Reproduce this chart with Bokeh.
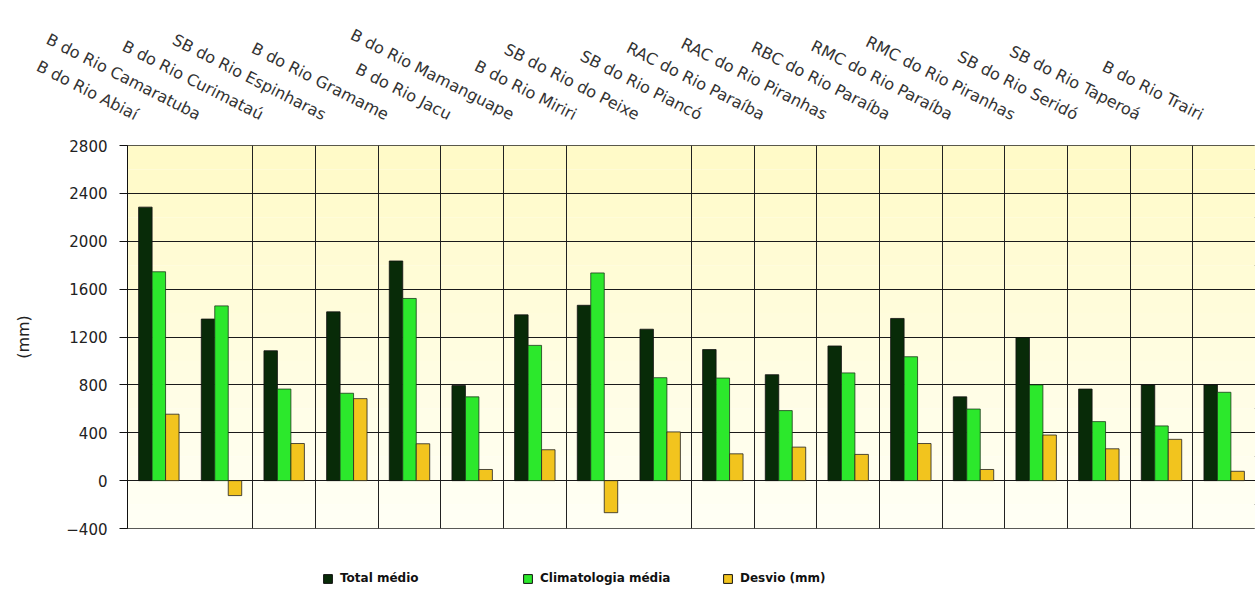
import numpy as np
from bokeh.plotting import figure
from bokeh.layouts import column
from bokeh.models import (ColumnDataSource, FixedTicker, Legend, LegendItem,
                          BoxAnnotation, Range1d)
from bokeh.embed import file_html
from bokeh.resources import INLINE

# ---------------- data ----------------
bacias = [
    "B do Rio Abiaí", "B do Rio Camaratuba", "B do Rio Curimataú",
    "SB do Rio Espinharas", "B do Rio Gramame", "B do Rio Jacu",
    "B do Rio Mamanguape", "B do Rio Miriri", "SB do Rio do Peixe",
    "SB do Rio Piancó", "RAC do Rio Paraíba", "RAC do Rio Piranhas",
    "RBC do Rio Paraíba", "RMC do Rio Paraíba", "RMC do Rio Piranhas",
    "SB do Rio Seridó", "SB do Rio Taperoá", "B do Rio Trairi",
]
total_medio = [2285, 1350, 1085, 1410, 1835, 795, 1385, 1465, 1265,
               1095, 885, 1125, 1355, 700, 1195, 765, 800, 800]
climatologia_media = [1745, 1460, 765, 730, 1522, 700, 1130, 1735, 860,
                      857, 585, 900, 1035, 598, 800, 493, 457, 738]
desvio = [555, -125, 310, 685, 308, 93, 258, -268, 407,
          224, 280, 219, 310, 93, 381, 266, 345, 78]
y_ticks = [-400, 0, 400, 800, 1200, 1600, 2000, 2400, 2800]
series_names = ["Total médio", "Climatologia média", "Desvio (mm)"]
series_colors = ["#082B08", "#2CE82C", "#F2C41E"]
series_lines = ["#111111", "#1A3A1A", "#222222"]

# ---------------- layout helpers ----------------
n = len(bacias)
shift = 0.35          # label anchor sits left of each category centre
bw = 0.215            # bar width (category units)
centers = np.arange(n) + shift

src = ColumnDataSource(dict(
    x1=centers - bw, x2=centers, x3=centers + bw,
    total=total_medio, clim=climatologia_media, desv=desvio,
))
series_fields = [("x1", "total"), ("x2", "clim"), ("x3", "desv")]

p = figure(width=1255, height=538, output_backend="svg", toolbar_location=None,
           x_range=Range1d(shift - 0.5, n - 0.5 + shift),
           y_range=Range1d(y_ticks[0], y_ticks[-1]),
           x_axis_location="above",
           min_border_left=127, min_border_right=0,
           min_border_top=145, min_border_bottom=10)
p.background_fill_color = "#FFFFFF"
p.border_fill_color = "#FFFFFF"
p.outline_line_color = "#222222"
p.outline_line_width = 1

# gradient-like background bands (light yellow at top to near white at bottom)
top_c = np.array([0xFF, 0xFA, 0xC6])
bot_c = np.array([0xFF, 0xFF, 0xF6])
nb = 16
span = (y_ticks[-1] - y_ticks[0]) / nb
for k in range(nb):
    t = (k + 0.5) / nb
    c = bot_c + (top_c - bot_c) * t
    col = "#%02X%02X%02X" % tuple(int(round(v)) for v in c)
    p.add_layout(BoxAnnotation(bottom=y_ticks[0] + k * span,
                               top=y_ticks[0] + (k + 1) * span,
                               fill_color=col, fill_alpha=1.0,
                               line_color=None, level="image"))

# grids
p.ygrid.ticker = FixedTicker(ticks=y_ticks)
p.ygrid.grid_line_color = "#1A1A1A"
p.ygrid.grid_line_width = 1
p.xgrid.ticker = FixedTicker(ticks=[i + shift + 0.5 for i in range(n - 1)
                                    if i not in (0, 7)])
p.xgrid.grid_line_color = "#222222"
p.xgrid.grid_line_width = 1

# x axis (category labels above)
xa = p.xaxis[0]
xa.ticker = FixedTicker(ticks=list(range(n)))
xa.major_label_overrides = {i: bacias[i] for i in range(n)}
xa.major_label_orientation = -0.47
xa.major_label_standoff = 24
xa.axis_line_color = None
xa.major_tick_line_color = None
xa.minor_tick_line_color = None
xa.major_label_text_font = "DejaVu Sans"
xa.major_label_text_font_size = "16px"
xa.major_label_text_color = "#333333"

# y axis
ya = p.yaxis[0]
ya.ticker = FixedTicker(ticks=y_ticks)
ya.axis_line_color = "#111111"
ya.major_tick_line_color = "#111111"
ya.major_tick_out = 8
ya.major_tick_in = 0
ya.minor_tick_line_color = None
ya.major_label_standoff = 12
ya.major_label_text_font = "DejaVu Sans"
ya.major_label_text_font_size = "15px"
ya.major_label_text_color = "#222222"
ya.axis_label = "(mm)"
ya.axis_label_text_font = "DejaVu Sans"
ya.axis_label_text_font_size = "16px"
ya.axis_label_text_font_style = "normal"
ya.axis_label_text_color = "#222222"
ya.axis_label_standoff = 30

# bars
for (xf, tf), fc, lc in zip(series_fields, series_colors, series_lines):
    p.vbar(x=xf, top=tf, bottom=0, width=bw, source=src,
           fill_color=fc, line_color=lc, line_width=0.8)

# ---------------- legend strip below the chart ----------------
lg = figure(width=1255, height=70, output_backend="svg", toolbar_location=None,
            x_range=Range1d(0, 1), y_range=Range1d(0, 1),
            x_axis_location=None, y_axis_location=None,
            min_border=0, outline_line_color=None)
lg.xgrid.visible = False
lg.ygrid.visible = False
swatches = []
for (xf, tf), fc in zip(series_fields, series_colors):
    # hidden renderers that only provide the legend swatches
    swatches.append(lg.vbar(x=xf, top=tf, width=bw, source=src,
                            fill_color=fc, line_color="#111111",
                            line_width=1, visible=False))
legend = Legend(items=[LegendItem(label=nm, renderers=[r])
                       for nm, r in zip(series_names, swatches)],
                orientation="horizontal", location=(195, 23),
                glyph_width=11, glyph_height=11, label_standoff=7,
                label_width=180, spacing=2, padding=0, margin=0,
                label_height=14, inactive_fill_alpha=0,
                background_fill_alpha=0, border_line_color=None,
                label_text_font="DejaVu Sans", label_text_font_size="12px",
                label_text_font_style="bold", label_text_color="#111111")
lg.add_layout(legend)

layout = column(p, lg, spacing=0)
open("out.html", "w").write(file_html(layout, INLINE))
